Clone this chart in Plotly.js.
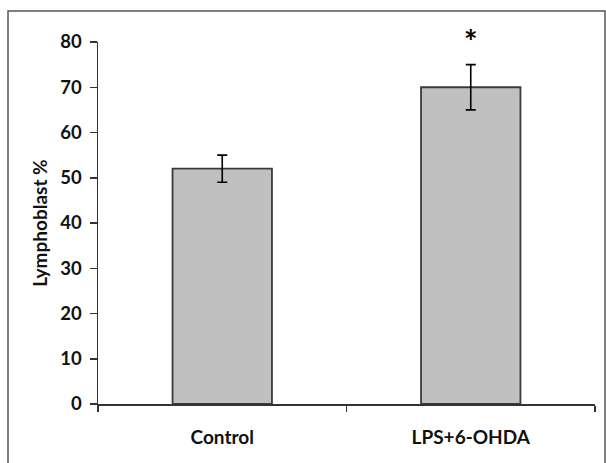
<!DOCTYPE html>
<html>
<head>
<meta charset="utf-8">
<script src="https://cdn.plot.ly/plotly-3.0.1.min.js"></script>
<style>html,body{margin:0;padding:0;background:#fff;}#chart{width:606px;height:463px;}</style>
</head>
<body>
<div id="chart"></div>
<script>
const categories = ["Control", "LPS+6-OHDA"];
const values = [52, 70];
const errors = [3, 5];
const significance = ["", "*"];
const yTicks = [0, 10, 20, 30, 40, 50, 60, 70, 80];

const fontFam = "Lato, 'Open Sans', sans-serif";

const trace = {
  type: "bar",
  x: categories,
  y: values,
  width: 0.4,
  marker: { color: "#c0c0c0", line: { color: "#3a3a3a", width: 1.8 } },
  error_y: { type: "data", array: errors, visible: true, color: "#000", thickness: 1.6, width: 5 },
  hoverinfo: "none"
};

const annotations = categories.map((c, i) => ({
  x: c, y: values[i] + errors[i], xref: "x", yref: "y",
  text: significance[i], showarrow: false, yshift: 23,
  font: { family: fontFam, size: 32, color: "#000", weight: 700 }
})).filter(a => a.text);

const layout = {
  width: 606, height: 463,
  margin: { l: 98, r: 11, t: 42, b: 59 },
  paper_bgcolor: "#fff", plot_bgcolor: "#fff",
  showlegend: false,
  font: { family: fontFam, size: 19, color: "#111", weight: 700 },
  xaxis: {
    type: "category",
    range: [-0.5, 1.5],
    showline: true, linecolor: "#333", linewidth: 1.5,
    ticks: "outside", tickson: "boundaries", ticklen: 6, tickcolor: "#333", tickwidth: 1.5,
    ticklabelstandoff: 16,
    showgrid: false, zeroline: false,
    tickfont: { family: fontFam, size: 19, color: "#111", weight: 700 }
  },
  yaxis: {
    range: [0, 80],
    tickvals: yTicks,
    showline: true, linecolor: "#333", linewidth: 1.5,
    ticks: "outside", ticklen: 7, tickcolor: "#333", tickwidth: 1.5,
    ticklabelstandoff: 4,
    showgrid: false, zeroline: false,
    tickfont: { family: fontFam, size: 18.5, color: "#111", weight: 700 },
    title: { text: "Lymphoblast %", standoff: 7, font: { family: fontFam, size: 19, color: "#111", weight: 700 } }
  },
  annotations: annotations,
  shapes: [{
    type: "rect", xref: "paper", yref: "paper",
    x0: (8 - 98) / 497, x1: (605 - 98) / 497,
    y0: (404 - 475) / 362, y1: (404 - 11) / 362,
    line: { color: "#555", width: 1.5 }, fillcolor: "rgba(0,0,0,0)", layer: "below"
  }]
};

Plotly.newPlot("chart", [trace], layout, { staticPlot: true, displayModeBar: false });
</script>
</body>
</html>
